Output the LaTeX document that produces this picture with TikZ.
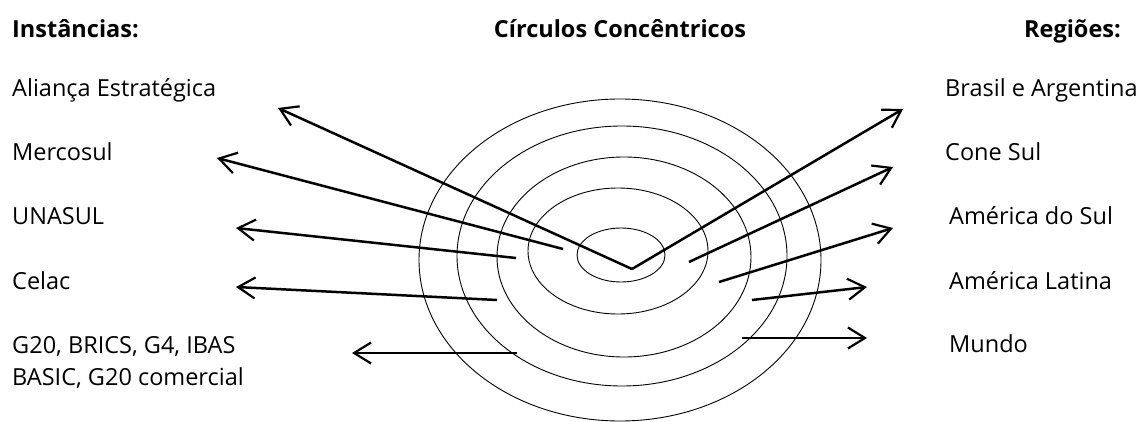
\documentclass[tikz,border=0pt]{standalone}
\usepackage{fontspec}
\setmainfont{Open Sans}
\usetikzlibrary{arrows.meta}
\tikzset{
  ring/.style={draw=black, line width=0.9pt},
  conn/.style={draw=black, line width=2.5pt, -{Straight Barb[length=17pt,width=21pt,line width=2.2pt]}},
  lbl/.style={inner sep=0pt, font=\fontsize{23.5}{28}\selectfont},
  head/.style={inner sep=0pt, font=\fontsize{23.5}{28}\selectfont\bfseries},
}
\begin{document}
\begin{tikzpicture}[x=1pt,y=-1pt]
\useasboundingbox (0,0) rectangle (1143,422);
% concentric ellipses
\draw[ring] (621,255) ellipse [x radius=44pt, y radius=27pt];
\draw[ring] (618,251) ellipse [x radius=90pt, y radius=63pt];
\draw[ring] (624,257) ellipse [x radius=127pt, y radius=100pt];
\draw[ring] (622,256) ellipse [x radius=165pt, y radius=130pt];
\draw[ring] (620,260) ellipse [x radius=201pt, y radius=161pt];
% headings
\node[head, anchor=base west] (hI) at (12,38) {Instâncias:};
\node[head, anchor=base] (hC) at (620,38) {Círculos Concêntricos};
\node[head, anchor=base east] (hR) at (1121,38) {Regiões:};
% left labels
\node[lbl, anchor=base west] (l1) at (12,97) {Aliança Estratégica};
\node[lbl, anchor=base west] (l2) at (12,161) {Mercosul};
\node[lbl, anchor=base west] (l3) at (12,225) {UNASUL};
\node[lbl, anchor=base west] (l4) at (12,289) {Celac};
\node[lbl, anchor=base west] (l5) at (12,353) {G20, BRICS, G4, IBAS};
\node[lbl, anchor=base west] (l6) at (12,385) {BASIC, G20 comercial};
% right labels
\node[lbl, anchor=base west] (r1) at (945,97) {Brasil e Argentina};
\node[lbl, anchor=base west] (r2) at (945,161) {Cone Sul};
\node[lbl, anchor=base west] (r3) at (949,225) {América do Sul};
\node[lbl, anchor=base west] (r4) at (949,289) {América Latina};
\node[lbl, anchor=base west] (r5) at (949,352) {Mundo};
% arrow anchor points
\coordinate (c0) at (632,269);
\coordinate (sL2) at (563,249);
\coordinate (sL3) at (516,258);
\coordinate (sL4) at (497,300);
\coordinate (sL5) at (517,353);
\coordinate (sR2) at (689,262);
\coordinate (sR3) at (719,282);
\coordinate (sR4) at (752,300);
\coordinate (sR5) at (742,338);
\coordinate (eL1) at (278,108);
\coordinate (eL2) at (217,158);
\coordinate (eL3) at (236,228);
\coordinate (eL4) at (236,287);
\coordinate (eL5) at (352,353);
\coordinate (eR1) at (903,109);
\coordinate (eR2) at (893,167);
\coordinate (eR3) at (893,228);
\coordinate (eR4) at (867,287);
\coordinate (eR5) at (867,338);
% arrows
\draw[conn] (c0) -- (eL1);
\draw[conn] (sL2) -- (eL2);
\draw[conn] (sL3) -- (eL3);
\draw[conn] (sL4) -- (eL4);
\draw[conn] (sL5) -- (eL5);
\draw[conn] (c0) -- (eR1);
\draw[conn] (sR2) -- (eR2);
\draw[conn] (sR3) -- (eR3);
\draw[conn] (sR4) -- (eR4);
\draw[conn] (sR5) -- (eR5);
\end{tikzpicture}
\end{document}
